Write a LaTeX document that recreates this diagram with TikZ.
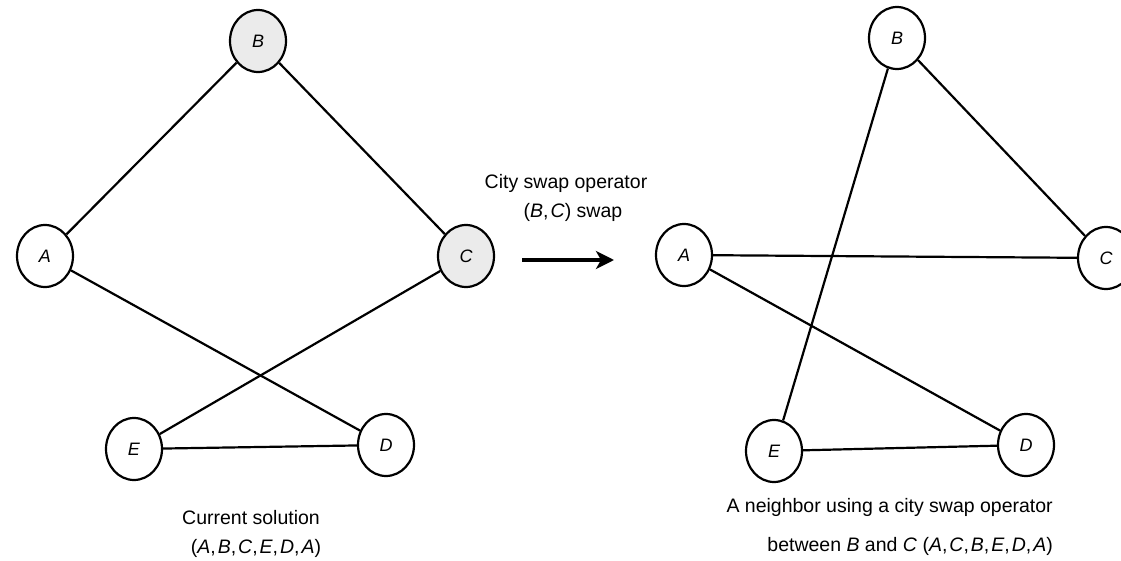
\documentclass[tikz,border=0pt]{standalone}
\usepackage{fontspec}
\setmainfont{Liberation Sans}
\usetikzlibrary{shapes.geometric,arrows.meta}
\tikzset{
  city/.style={ellipse, draw=black, line width=2.2pt, fill=white,
    minimum width=56pt, minimum height=62pt, inner sep=0pt,
    font=\fontsize{18}{20}\selectfont\itshape},
  picked/.style={city, fill=black!8},
  road/.style={draw=black, line width=2.2pt},
  caption/.style={font=\fontsize{19.5}{24}\selectfont, inner sep=0pt},
  swaparrow/.style={line width=4pt, -{Stealth[length=18pt,width=18pt,inset=5pt]}}
}
\begin{document}
\begin{tikzpicture}[x=1pt,y=-1pt]
  \useasboundingbox (0,0) rectangle (1121,561);
  \clip (0,0) rectangle (1121,561);

  % current tour
  \node[picked] (lB) at (258,41) {B};
  \node[city]   (lA) at (45,256) {A};
  \node[picked] (lC) at (466,256) {C};
  \node[city]   (lE) at (134,449) {E};
  \node[city]   (lD) at (386,445) {D};
  \draw[road] (lA) -- (lB);
  \draw[road] (lB) -- (lC);
  \draw[road] (lC) -- (lE);
  \draw[road] (lE) -- (lD);
  \draw[road] (lD) -- (lA);

  \node[caption] (lcap1) at (251,518) {Current solution};
  \node[caption] (lcap2) at (256,548) {(\textit{A},\kern2pt\textit{B},\kern2pt\textit{C},\kern2pt\textit{E},\kern2pt\textit{D},\kern2pt\textit{A})};

  % operator
  \node[caption] (op1) at (566,183) {City swap operator};
  \node[caption] (op2) at (573,212) {(\textit{B},\kern2pt\textit{C}) swap};
  \coordinate (arS) at (522,260);
  \coordinate (arE) at (614,260);
  \draw[swaparrow] (arS) -- (arE);

  % neighbour tour
  \node[city] (rB) at (897,38) {B};
  \node[city] (rA) at (684,255) {A};
  \node[city] (rC) at (1106,258) {C};
  \node[city] (rE) at (774,451) {E};
  \node[city] (rD) at (1026,445) {D};
  \draw[road] (rA) -- (rC);
  \draw[road] (rC) -- (rB);
  \draw[road] (rB) -- (rE);
  \draw[road] (rE) -- (rD);
  \draw[road] (rD) -- (rA);

  \node[caption, anchor=east] (rcap1) at (1053,507) {A neighbor using a city swap operator};
  \node[caption, anchor=east] (rcap2) at (1053,546) {between \textit{B} and \textit{C} (\textit{A},\kern2pt\textit{C},\kern2pt\textit{B},\kern2pt\textit{E},\kern2pt\textit{D},\kern2pt\textit{A})};
\end{tikzpicture}
\end{document}
